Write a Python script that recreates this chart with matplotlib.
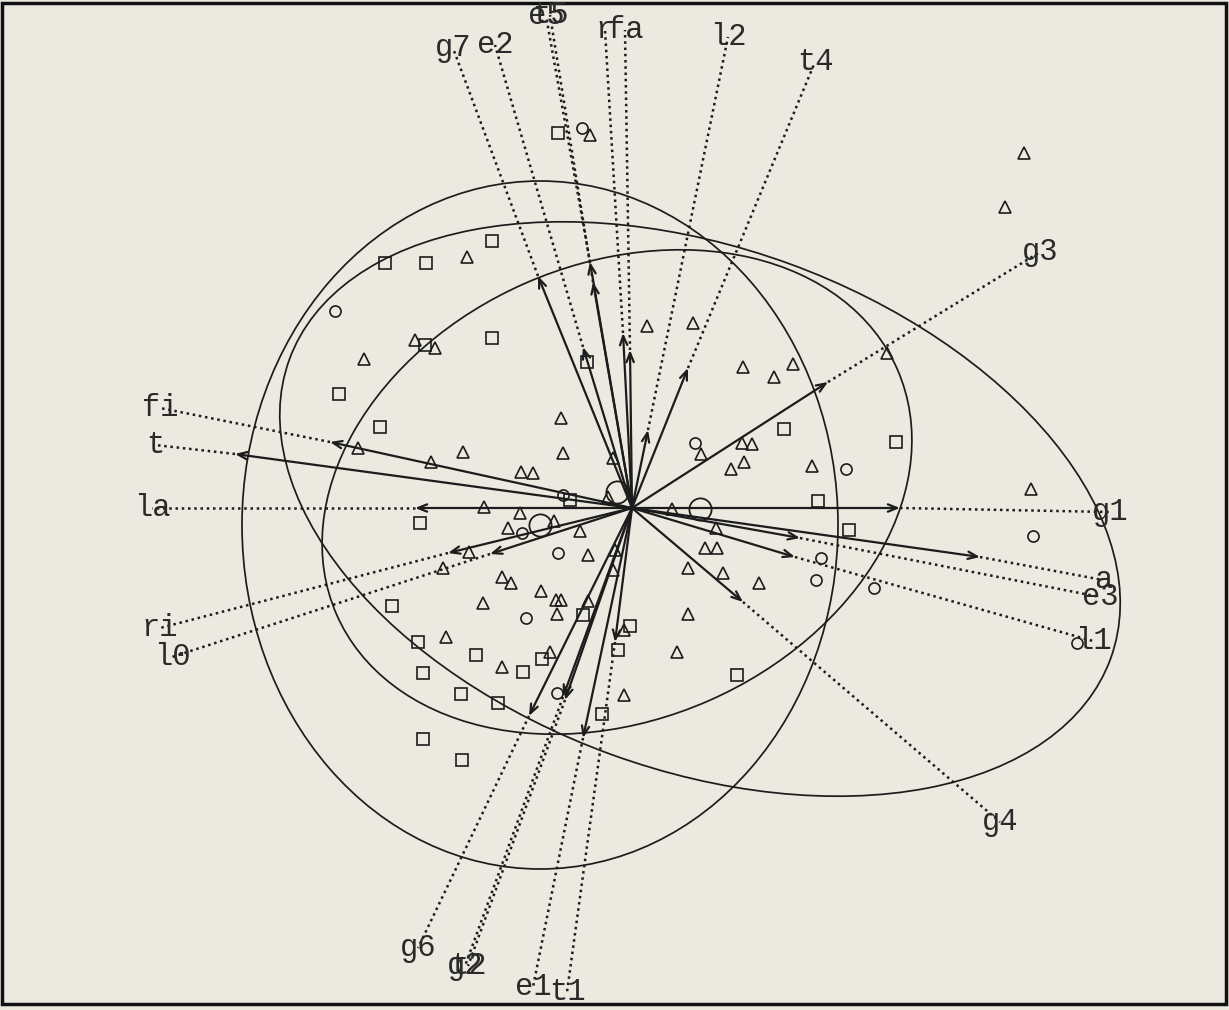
import matplotlib
matplotlib.use("Agg")
import matplotlib.pyplot as plt
from matplotlib.patches import Ellipse, FancyArrowPatch, Rectangle

# variable arrows: tip of the solid arrow and end of the dotted extension (label spot)
var_names = ["g7", "e2", "e5", "t5", "r", "fa", "l2", "t4", "g3", "g1", "a", "e3",
             "l1", "g4", "t1", "e1", "g2", "t2", "g6", "fi", "t", "la", "ri", "l0"]
tip_x = [-0.94, -0.49, -0.42, -0.39, -0.09, -0.02, 0.16, 0.56, 1.96, 2.68, 3.48, 1.68,
         1.63, 1.11, -0.17, -0.49, -0.69, -0.67, -1.03, -3.02, -3.97, -2.17, -1.84, -1.42]
tip_y = [2.32, 1.61, 2.46, 2.26, 1.75, 1.58, 0.78, 1.40, 1.26, 0.00, -0.49, -0.30,
         -0.49, -0.94, -1.34, -2.30, -1.89, -1.92, -2.08, 0.66, 0.54, 0.00, -0.45, -0.46]
lab_x = [-1.79, -1.37, -0.86, -0.82, -0.27, -0.07, 0.96, 1.83, 4.08, 4.78, 4.71, 4.68,
         4.61, 3.68, -0.65, -0.99, -1.67, -1.64, -2.14, -4.72, -4.77, -4.80, -4.72, -4.60]
lab_y = [4.60, 4.63, 4.92, 4.93, 4.78, 4.78, 4.71, 4.46, 2.56, -0.04, -0.72, -0.89,
         -1.33, -3.14, -4.84, -4.79, -4.58, -4.58, -4.40, 1.00, 0.63, 0.00, -1.20, -1.49]

# observations by group
sq_x = [-0.74, -1.40, -2.47, -2.06, -2.07, -1.40, -2.93, -2.52, -0.45, 1.52, 2.64, 1.86,
        2.17, -2.12, -0.62, -2.40, -2.14, -1.56, -0.90, -1.09, -2.09, -1.71, -1.34, -0.49,
        -0.02, -0.14, -0.30, -2.09, -1.70, 1.05]
sq_y = [3.75, 2.67, 2.45, 2.45, 1.63, 1.70, 1.14, 0.81, 1.46, 0.79, 0.66, 0.07,
        -0.22, -0.15, 0.08, -0.98, -1.34, -1.47, -1.51, -1.64, -1.65, -1.86, -1.95, -1.07,
        -1.18, -1.42, -2.06, -2.31, -2.52, -1.67]

tr_x = [-0.42, -1.65, -2.17, -1.97, -2.68, -2.74, -2.01, -1.69, -0.71, -0.69, -1.11, -0.99,
        0.15, 0.61, -0.19, 1.11, 1.42, 1.61, 2.55, 3.92, 3.73, 0.69, 1.10, 1.20,
        1.12, 0.99, 1.80, 3.99, 0.40, 0.84, 0.73, 0.85, -1.48, -1.12, -1.24, -0.78,
        -0.52, -0.24, -1.63, -1.89, -0.44, -1.30, -1.21, -0.91, -1.49, -0.76, -0.71, -0.75,
        -0.44, -1.86, -0.82, -1.30, -0.08, 0.56, 0.91, 1.27, 0.56, 0.45, -0.08, -0.19, -0.17]
tr_y = [3.73, 2.51, 1.68, 1.60, 1.49, 0.60, 0.46, 0.56, 0.90, 0.55, 0.36, 0.35,
        1.82, 1.85, 0.50, 1.41, 1.31, 1.44, 1.55, 3.55, 3.01, 0.54, 0.65, 0.64,
        0.46, 0.39, 0.42, 0.19, -0.01, -0.20, -0.40, -0.40, 0.01, -0.05, -0.20, -0.13,
        -0.23, 0.11, -0.44, -0.60, -0.47, -0.69, -0.75, -0.83, -0.95, -0.92, -0.92, -1.06,
        -0.93, -1.29, -1.44, -1.59, -1.87, -0.60, -0.65, -0.75, -1.06, -1.44, -1.22, -0.62, -0.42]

ci_x = [-0.50, -2.97, 0.63, 2.14, 4.01, -0.69, -1.10, -0.74, -1.06, -0.75, 1.89, 1.84, 2.42, 4.45]
ci_y = [3.80, 1.97, 0.65, 0.39, -0.28, 0.13, -0.25, -0.45, -1.10, -1.85, -0.50, -0.72, -0.80, -1.35]

# group centroids and their ellipses
cen_x = [-0.92, 0.68, -0.15]
cen_y = [-0.17, -0.01, 0.16]
ell_w = [5.96, 8.74, 6.12]
ell_h = [6.88, 5.22, 4.56]
ell_ang = [0, -20, 23.6]

ink = "#1c1c1c"
paper = "#ebe9e0"

fig = plt.figure(figsize=(12.29, 10.10), dpi=100, facecolor=paper)
ax = fig.add_axes([0, 0, 1, 1])
ax.set_facecolor(paper)
ax.set_xlim(-6.32, 5.97)
ax.set_ylim(-5.02, 5.08)
ax.axis("off")

for cx, cy, w, h, ang in zip(cen_x, cen_y, ell_w, ell_h, ell_ang):
    ax.add_patch(Ellipse((cx, cy), w, h, angle=ang, fill=False, ec=ink, lw=1.25))

for name, tx, ty, lx, ly in zip(var_names, tip_x, tip_y, lab_x, lab_y):
    ax.add_patch(FancyArrowPatch((0, 0), (tx, ty), arrowstyle="->,head_length=0.55,head_width=0.22",
                                 mutation_scale=12, lw=1.6, color=ink, shrinkA=0, shrinkB=0))
    ax.plot([tx, lx], [ty, ly], color=ink, lw=1.8, linestyle=(0, (1, 1.5)))
    ax.text(lx, ly, name, ha="center", va="center", fontsize=22,
            family="Liberation Mono", color="#2a2a2a")

ax.plot(sq_x, sq_y, "s", ms=8, mfc="none", mec=ink, mew=1.2)
ax.plot(tr_x, tr_y, "^", ms=8.5, mfc="none", mec=ink, mew=1.2)
ax.plot(ci_x, ci_y, "o", ms=8, mfc="none", mec=ink, mew=1.2)
ax.plot(cen_x, cen_y, "o", ms=16, mfc="none", mec=ink, mew=1.3)

ax.add_patch(Rectangle((0.0016, 0.006), 0.996, 0.991, transform=ax.transAxes,
                       fill=False, ec="#111111", lw=2.5, clip_on=False))

fig.savefig("out.png", dpi=100, facecolor=paper)
